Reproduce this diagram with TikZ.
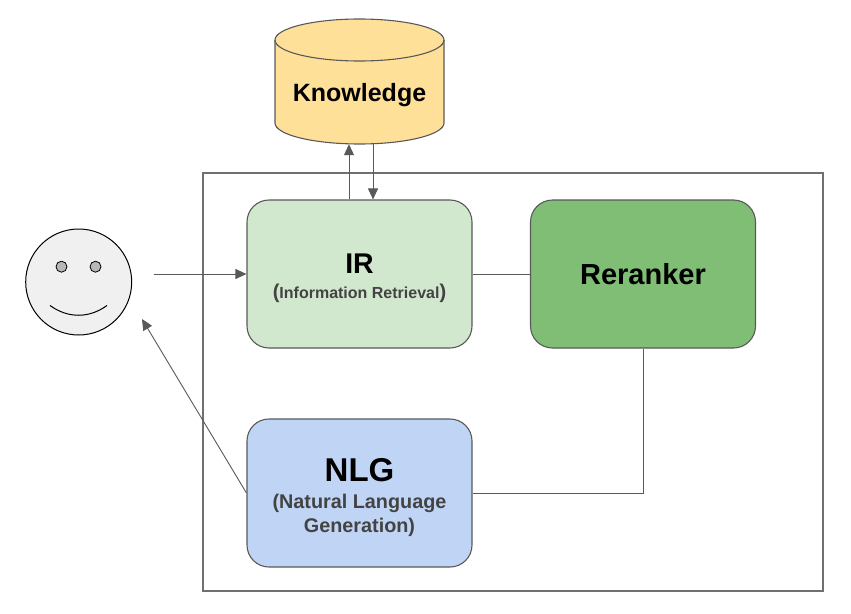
\documentclass[tikz,border=0pt]{standalone}
\usepackage{fontspec}
\setmainfont{Liberation Sans}
\usetikzlibrary{arrows.meta}
\definecolor{edgegray}{HTML}{595959}
\definecolor{framegray}{HTML}{707070}
\definecolor{subtext}{HTML}{434343}
\definecolor{kfill}{HTML}{FFE099}
\definecolor{irfill}{HTML}{D2E8CE}
\definecolor{rrfill}{HTML}{80BD75}
\definecolor{nlgfill}{HTML}{C0D5F5}
\definecolor{facefill}{HTML}{F0F0F0}
\definecolor{eyefill}{HTML}{B7B7B7}
\tikzset{
  px/.style={x=1pt,y=-1pt},
  modulebox/.style={draw=edgegray,line width=1.1pt,rounded corners=22pt,minimum width=225pt,minimum height=148pt,inner sep=0pt},
  conn/.style={draw=edgegray,line width=0.9pt},
  arr/.style={conn,-{Triangle[length=11pt,width=10pt]}},
  title/.style={text=black,anchor=base,inner sep=0pt},
  subtitle/.style={font=\bfseries\fontsize{19.8}{24}\selectfont,text=subtext,anchor=base,inner sep=0pt},
  faceline/.style={draw=black,line width=1pt},
}
\begin{document}
\begin{tikzpicture}[px]
\useasboundingbox (0,0) rectangle (851,613);
% frame
\node[draw=framegray,line width=1.1pt,minimum width=620pt,minimum height=418pt,inner sep=0pt] (frame) at (513,382) {};
% boxes
\node[modulebox,fill=irfill] (ir) at (359.5,274) {};
\node[modulebox,fill=rrfill] (rr) at (643,274) {};
\node[modulebox,fill=nlgfill] (nlg) at (359.5,493) {};
% knowledge cylinder
\path[fill=kfill,draw=edgegray,line width=1.1pt] (275,40) -- (275,123) arc[start angle=180,end angle=360,x radius=84.5pt,y radius=21pt] -- (444,40) arc[start angle=0,end angle=180,x radius=84.5pt,y radius=21pt] -- cycle;
\draw[edgegray,line width=1.1pt] (275,40) arc[start angle=180,end angle=360,x radius=84.5pt,y radius=21pt];
\node[minimum width=169pt,minimum height=104pt,inner sep=0pt] (know) at (359.5,92) {};
% face
\node[circle,draw=black,line width=1pt,fill=facefill,minimum size=106pt,inner sep=0pt] (face) at (78.7,282) {};
\node[circle,draw=black,line width=.8pt,fill=eyefill,minimum size=11pt,inner sep=0pt] (eyea) at (61.5,266.7) {};
\node[circle,draw=black,line width=.8pt,fill=eyefill,minimum size=11pt,inner sep=0pt] (eyeb) at (95.5,266.7) {};
\coordinate (smilea) at (50,305.5);
\coordinate (smileb) at (107,305.5);
\draw[faceline] (smilea) .. controls (68,318.5) and (89,318.5) .. (smileb);
% free ends
\coordinate (userout) at (153.5,274);
\coordinate (userin) at (142,319);
% connectors
\draw[arr] (userout) -- (ir.west);
\draw[conn] (ir.east) -- (rr.west);
\draw[conn] (rr.south) |- (nlg.east);
\draw[arr] (nlg.west) -- (userin);
\draw[arr] ([xshift=-10.5pt]ir.north) -- ([xshift=-10.5pt]know.south);
\draw[arr] ([xshift=13.5pt]know.south) -- ([xshift=13.5pt]ir.north);
% texts
\node[title,font=\bfseries\fontsize{25}{30}\selectfont] (tk) at (359.5,101) {Knowledge};
\node[title,font=\bfseries\fontsize{28.5}{32}\selectfont] (tir) at (359.5,273) {IR};
\node[subtitle] (sir) at (359.5,298) {\fontsize{20}{24}\selectfont(\fontsize{16}{24}\selectfont Information Retrieval\fontsize{20}{24}\selectfont)};
\node[title,font=\bfseries\fontsize{29}{34}\selectfont] (trr) at (643,284) {Reranker};
\node[title,font=\bfseries\fontsize{33}{38}\selectfont] (tnlg) at (359.5,481) {NLG};
\node[subtitle] (snlga) at (359.5,508) {(Natural Language};
\node[subtitle] (snlgb) at (359.5,532) {Generation)};
\end{tikzpicture}
\end{document}
